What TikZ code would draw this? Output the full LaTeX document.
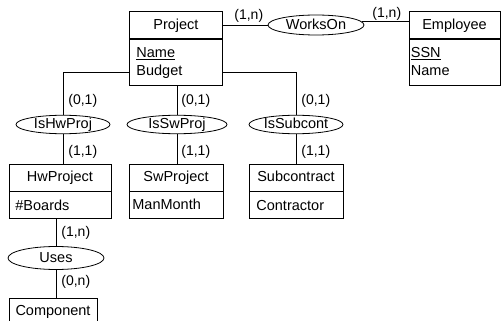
\documentclass[tikz,border=0pt]{standalone}
\usepackage{fontspec}
\setmainfont{Liberation Sans}
\usetikzlibrary{shapes.geometric}
\begin{document}
\begin{tikzpicture}[x=1pt,y=-1pt, line width=0.8pt,
  every node/.style={font=\fontsize{14.5}{18}\selectfont},
  ent/.style={draw, rectangle, inner sep=0pt, text height=10.4pt, text depth=1.5pt},
  attrbox/.style={draw, rectangle, inner sep=0pt, anchor=north},
  rel/.style={draw, ellipse, inner sep=0pt, text height=10.4pt, text depth=1.5pt},
  attr/.style={anchor=base west, inner sep=0pt, align=left, text width=85pt},
  card/.style={anchor=base west, inner sep=0pt, font=\fontsize{14}{16}\selectfont}]
\useasboundingbox (0,0) rectangle (501,321);

% entities
\node[ent, minimum width=93.7pt, minimum height=26.5pt] (ProjT) at (175.9,25) {Project};
\node[attrbox, minimum width=93.7pt, minimum height=46.7pt] (ProjA) at (ProjT.south) {};
\node[attr] (ProjN) at (136,58) {\underline{Name}\\Budget};

\node[ent, minimum width=91pt, minimum height=26.5pt] (EmpT) at (454.5,25) {Employee};
\node[attrbox, minimum width=91pt, minimum height=46.7pt] (EmpA) at (EmpT.south) {};
\node[attr] (EmpN) at (410.5,57.5) {\underline{SSN}\\Name};

\node[ent, minimum width=102pt, minimum height=27pt] (HwT) at (60,177.5) {HwProject};
\node[attrbox, minimum width=102pt, minimum height=27pt] (HwA) at (HwT.south) {};
\node[attr] (HwN) at (15,210) {\#Boards};

\node[ent, minimum width=94pt, minimum height=27pt] (SwT) at (176,177.5) {SwProject};
\node[attrbox, minimum width=94pt, minimum height=27pt] (SwA) at (SwT.south) {};
\node[attr] (SwN) at (132,209.5) {ManMonth};

\node[ent, minimum width=94pt, minimum height=27pt] (SubT) at (296,177.5) {Subcontract};
\node[attrbox, minimum width=94pt, minimum height=27pt] (SubA) at (SubT.south) {};
\node[attr] (SubN) at (256,210) {Contractor};

\node[ent, minimum width=88pt, minimum height=26pt] (CompT) at (53,311) {Component};

% relationships
\node[rel, minimum width=96pt, minimum height=20pt] (WorksOn) at (316,25) {WorksOn};
\node[rel, minimum width=94pt, minimum height=18.5pt] (IsHw) at (63,124.5) {IsHwProj};
\node[rel, minimum width=100pt, minimum height=18.5pt] (IsSw) at (177,124.5) {IsSwProj};
\node[rel, minimum width=94pt, minimum height=18.5pt] (IsSub) at (296,124.5) {IsSubcont};
\node[rel, minimum width=96pt, minimum height=23pt] (Uses) at (56,258) {Uses};

% connectors
\draw (ProjT.east) -- (WorksOn.west);
\draw (WorksOn.4) -- (WorksOn.4 -| EmpT.west);
\draw (IsHw.north) |- ([yshift=-10.4pt]ProjA.west);
\draw (IsSub.north) |- ([yshift=-10.4pt]ProjA.east);
\draw (IsSw.north) -- (IsSw.north |- ProjA.south);
\draw (IsHw.south) -- (IsHw.south |- HwT.north);
\draw (IsSw.south) -- (IsSw.south |- SwT.north);
\draw (IsSub.south) -- (IsSub.south |- SubT.north);
\draw (HwA.south -| Uses.north) -- (Uses.north);
\draw (Uses.south) -- (Uses.south |- CompT.north);

% cardinalities
\node[card] (c1) at (234,20) {(1,n)};
\node[card] (c2) at (372,18) {(1,n)};
\node[card] (c3) at (68,104) {(0,1)};
\node[card] (c4) at (181,104) {(0,1)};
\node[card] (c5) at (301,104) {(0,1)};
\node[card] (c6) at (68,155) {(1,1)};
\node[card] (c7) at (181,155) {(1,1)};
\node[card] (c8) at (301,155) {(1,1)};
\node[card] (c9) at (61,236) {(1,n)};
\node[card] (c10) at (61,285) {(0,n)};
\end{tikzpicture}
\end{document}
